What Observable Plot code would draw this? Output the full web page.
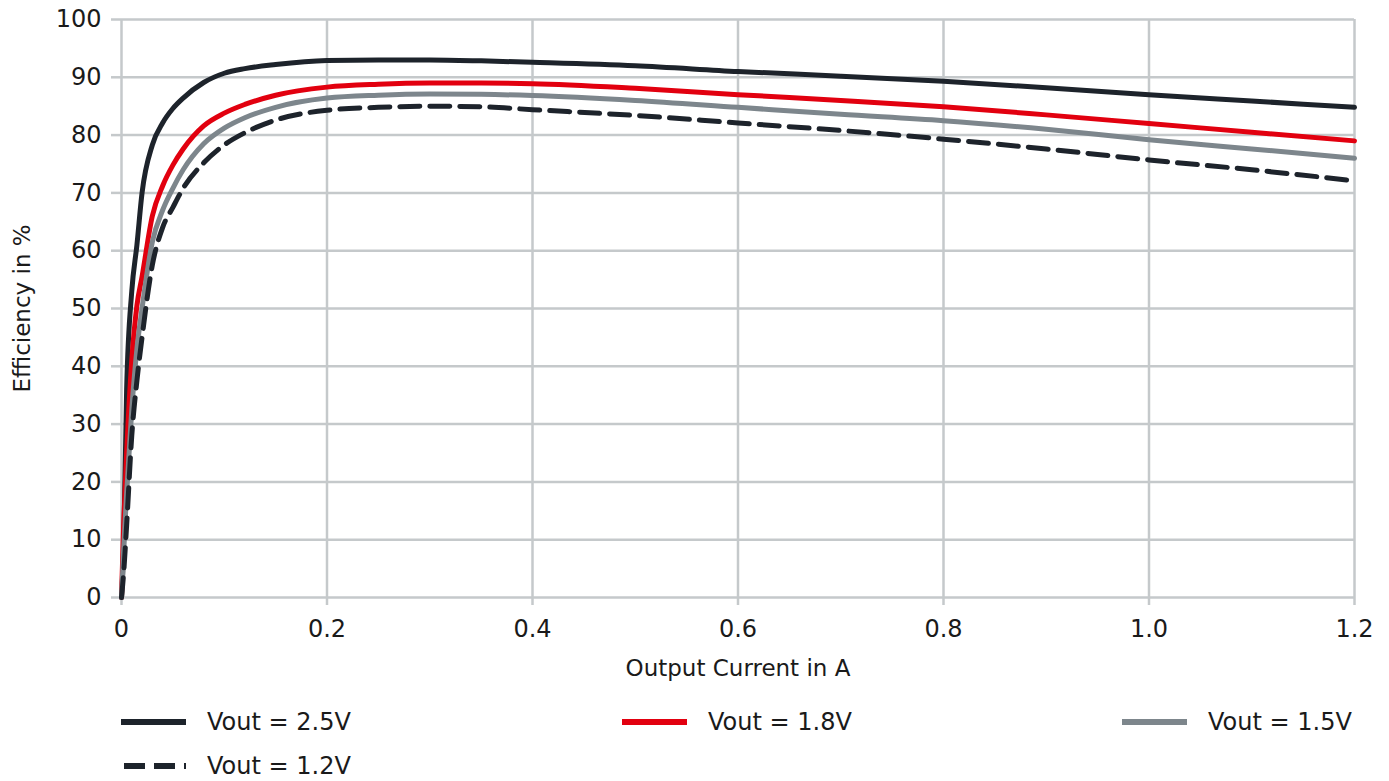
<!DOCTYPE html>
<html>
<head>
<meta charset="utf-8">
<script src="https://cdn.jsdelivr.net/npm/d3@7"></script>
<script src="https://cdn.jsdelivr.net/npm/@observablehq/plot@0.6"></script>
<style>
  html, body { margin: 0; padding: 0; background: #fff; }
  #chart { width: 1389px; }
  .legend { position: relative; width: 1389px; height: 81px; font-family: "DejaVu Sans", sans-serif; font-size: 24px; color: #1a1a1a; }
  .item { position: absolute; display: flex; align-items: center; height: 44px; }
  .item svg { margin-right: 21px; }
</style>
</head>
<body>
<div id="chart"></div>
<div class="legend" id="legend"></div>
<script>
// Output current (A)
const current = [0, 0.002, 0.005, 0.01, 0.015, 0.02, 0.03, 0.04, 0.05, 0.06, 0.08, 0.1, 0.12, 0.15, 0.2, 0.25, 0.3, 0.35, 0.4, 0.5, 0.6, 0.7, 0.8, 0.9, 1.0, 1.1, 1.2];
// Efficiency (%)
const eff25 = [0, 8, 36, 53, 61, 70, 78.3, 82.1, 84.6, 86.4, 89.1, 90.7, 91.5, 92.2, 92.9, 93.0, 93.0, 92.85, 92.6, 92.0, 91.0, 90.2, 89.3, 88.2, 87.0, 85.9, 84.8];
const eff18 = [0, 12, 25, 41, 50.5, 55.5, 66, 71.2, 74.8, 77.6, 81.6, 83.8, 85.3, 86.9, 88.3, 88.8, 89.0, 89.0, 88.9, 88.1, 87.0, 86.0, 84.9, 83.5, 82.0, 80.5, 79.0];
const eff15 = [0, 8, 18, 32.5, 43, 50, 61.5, 67, 70.8, 74.0, 78.5, 81.2, 83.0, 84.8, 86.4, 86.9, 87.1, 87.05, 86.85, 86.0, 84.8, 83.6, 82.5, 81.0, 79.2, 77.6, 76.0];
const eff12 = [0, 4, 12.5, 28, 37.5, 45, 57.5, 64, 67.5, 70.8, 75.2, 78.3, 80.4, 82.6, 84.3, 84.8, 85.0, 84.9, 84.4, 83.4, 82.1, 80.8, 79.3, 77.6, 75.7, 74.0, 72.1];

const seriesNames = ["Vout = 2.5V", "Vout = 1.8V", "Vout = 1.5V", "Vout = 1.2V"];
const seriesValues = [eff25, eff18, eff15, eff12];
const seriesColors = ["#1d232b", "#e2000f", "#7d868c", "#1d232b"];
const seriesDash = [null, null, null, "20,10"];

const xTicks = [0, 0.2, 0.4, 0.6, 0.8, 1.0, 1.2];
const yTicks = [0, 10, 20, 30, 40, 50, 60, 70, 80, 90, 100];

const GRID = "#c5c9cb";
const TEXT = "#1a1a1a";

const lineMarks = seriesValues.map((vals, i) =>
  Plot.line(current.map((c, j) => ({x: c, y: vals[j]})), {
    x: "x", y: "y",
    stroke: seriesColors[i],
    strokeWidth: 5,
    strokeDasharray: seriesDash[i],
    curve: "monotone-x"
  })
);

const chart = Plot.plot({
  width: 1389,
  height: 700,
  marginLeft: 121,
  marginRight: 35,
  marginTop: 19,
  marginBottom: 103,
  style: {fontFamily: "DejaVu Sans, sans-serif", fontSize: "24px", color: TEXT, background: "#fff"},
  x: {domain: [0, 1.2]},
  y: {domain: [0, 100]},
  marks: [
    Plot.gridX(xTicks, {stroke: GRID, strokeWidth: 2.5, strokeOpacity: 1}),
    Plot.gridY(yTicks, {stroke: GRID, strokeWidth: 2.5, strokeOpacity: 1}),
    Plot.axisX(xTicks, {tickSize: 8, tickPadding: 14, stroke: GRID, strokeWidth: 2.5, fill: TEXT,
      tickFormat: d => d === 0 ? "0" : d.toFixed(1), label: null, fontSize: 24}),
    Plot.axisY(yTicks, {tickSize: 10, tickPadding: 10, stroke: GRID, strokeWidth: 2.5, fill: TEXT,
      label: null, fontSize: 24}),
    Plot.text(["Output Current in A"], {frameAnchor: "bottom", dy: 71, textAnchor: "middle", lineAnchor: "middle",
      fontSize: 23, fill: TEXT}),
    Plot.text(["Efficiency in %"], {frameAnchor: "left", dx: -99, rotate: -90, textAnchor: "middle", lineAnchor: "middle",
      fontSize: 23, fill: TEXT}),
    lineMarks[0], lineMarks[1], lineMarks[2], lineMarks[3]
  ]
});
document.getElementById("chart").appendChild(chart);

// Legend
const legendPos = [[121, 0], [622, 0], [1122, 0], [121, 44]];
const legend = document.getElementById("legend");
seriesNames.forEach((name, i) => {
  const item = document.createElement("div");
  item.className = "item";
  item.style.left = legendPos[i][0] + "px";
  item.style.top = legendPos[i][1] + "px";
  const dash = seriesDash[i] ? `stroke-dasharray="21,9" ` : "";
  item.innerHTML = `<svg width="65" height="8"><line x1="${seriesDash[i] ? 3 : 0}" y1="4" x2="65" y2="4" stroke="${seriesColors[i]}" stroke-width="6" ${dash}/></svg><span>${name}</span>`;
  legend.appendChild(item);
});
</script>
</body>
</html>
